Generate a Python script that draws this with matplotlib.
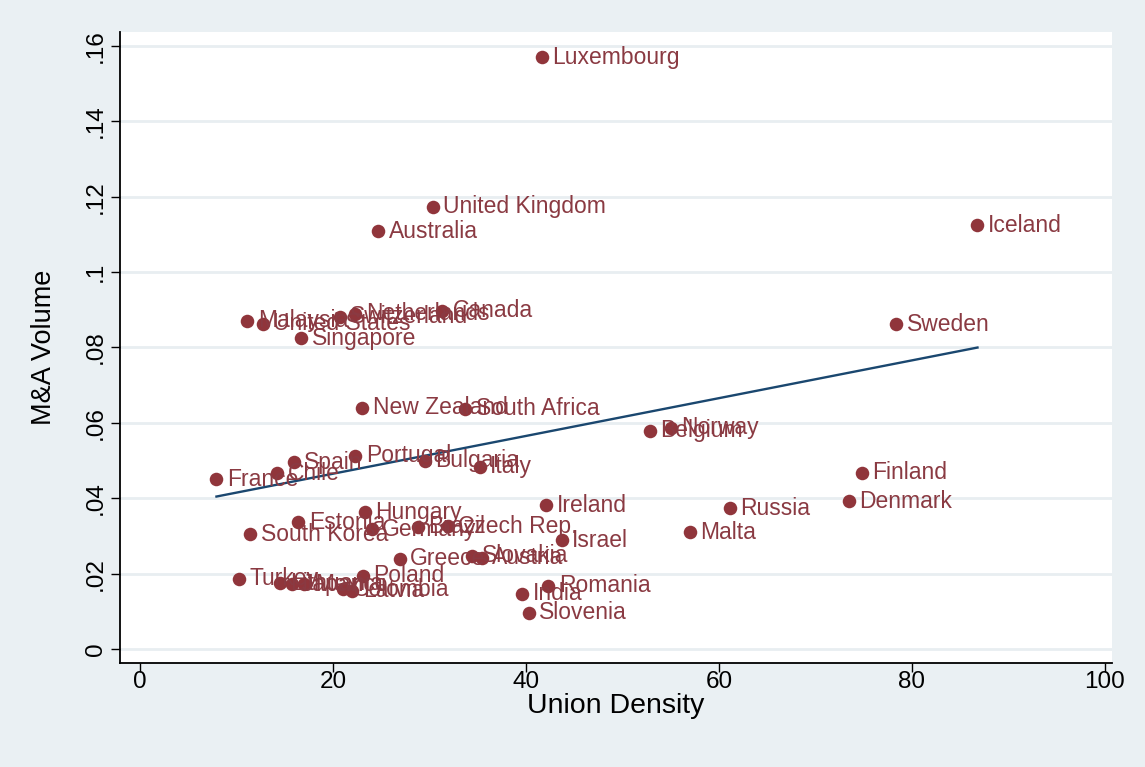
import matplotlib
matplotlib.use("Agg")
import matplotlib.pyplot as plt
import numpy as np
from matplotlib import font_manager

countries = ["Luxembourg", "United Kingdom", "Australia", "Iceland", "Canada",
             "Netherlands", "Switzerland", "Malaysia", "United States", "Singapore",
             "Sweden", "New Zealand", "South Africa", "Norway", "Belgium",
             "Portugal", "Bulgaria", "Italy", "Spain", "Chile", "France",
             "Finland", "Denmark", "Ireland", "Russia", "Hungary", "Estonia",
             "Germany", "Brazil", "Czech Rep.", "Malta", "South Korea", "Israel",
             "Greece", "Slovakia", "Austria", "Turkey", "Poland", "Lithuania",
             "Japan", "Mexico", "Colombia", "Latvia", "Romania", "India", "Slovenia"]
union_density = [41.6, 30.3, 24.7, 86.8, 31.3,
                 22.3, 20.7, 11.1, 12.7, 16.7,
                 78.4, 23.0, 33.7, 55.0, 52.8,
                 22.3, 29.5, 35.2, 15.9, 14.2, 7.9,
                 74.8, 73.5, 42.1, 61.1, 23.3, 16.4,
                 24.0, 28.8, 31.9, 57.0, 11.4, 43.7,
                 26.9, 34.4, 35.4, 10.2, 23.1, 14.5,
                 15.7, 17.0, 21.0, 22.0, 42.3, 39.6, 40.3]
ma_volume = [0.1570, 0.1174, 0.1108, 0.1124, 0.0897,
             0.0890, 0.0882, 0.0871, 0.0863, 0.0825,
             0.0861, 0.0640, 0.0637, 0.0587, 0.0579,
             0.0513, 0.0500, 0.0484, 0.0495, 0.0466, 0.0450,
             0.0468, 0.0392, 0.0382, 0.0374, 0.0363, 0.0337,
             0.0318, 0.0324, 0.0326, 0.0310, 0.0305, 0.0289,
             0.0239, 0.0247, 0.0242, 0.0187, 0.0195, 0.0174,
             0.0172, 0.0172, 0.0158, 0.0155, 0.0168, 0.0147, 0.0096]

# fitted line
fit_intercept = 0.0365
fit_slope = 0.000501

x_ticks = [0, 20, 40, 60, 80, 100]
y_ticks = [0, 0.02, 0.04, 0.06, 0.08, 0.10, 0.12, 0.14, 0.16]
y_tick_labels = ["0", ".02", ".04", ".06", ".08", ".1", ".12", ".14", ".16"]

avail = {f.name for f in font_manager.fontManager.ttflist}
fam = "Liberation Sans" if "Liberation Sans" in avail else "DejaVu Sans"
plt.rcParams["font.family"] = [fam, "DejaVu Sans"]

bg = "#eaf0f3"
maroon = "#90353b"
navy = "#1a476f"

fig = plt.figure(figsize=(11.45, 7.67), dpi=100, facecolor=bg)
ax = fig.add_axes([0.1048, 0.1356, 0.866, 0.8227])
ax.set_facecolor("white")

x = np.array(union_density)
y = np.array(ma_volume)

for yt in y_ticks:
    ax.axhline(yt, color="#e8eef1", lw=2.0, zorder=0)

ax.scatter(x, y, s=95, color=maroon, zorder=3, linewidths=0)
for name, xi, yi in zip(countries, x, y):
    ax.annotate(name, (xi, yi), xytext=(7.5, 0), textcoords="offset points",
                va="center", ha="left", fontsize=16.5, color="#8a3a42", zorder=4)

xf = np.array([x.min(), x.max()])
ax.plot(xf, fit_intercept + fit_slope * xf, color=navy, lw=1.7, zorder=2)

ax.set_xlim(-2.1, 100.7)
ax.set_ylim(-0.0037, 0.1637)
ax.set_xticks(x_ticks)
ax.set_xticklabels([str(t) for t in x_ticks])
ax.set_yticks(y_ticks)
ax.set_yticklabels(y_tick_labels, rotation=90, va="center")
ax.tick_params(axis="both", labelsize=17.5, length=6.5, width=1.0, color="black")
ax.tick_params(axis="x", pad=-1)
ax.tick_params(axis="y", pad=3)

for s in ["top", "right"]:
    ax.spines[s].set_visible(False)
for s in ["left", "bottom"]:
    ax.spines[s].set_linewidth(1.3)

ax.set_xlabel("Union Density", fontsize=20.5, labelpad=0)
ax.set_ylabel("M&A Volume", fontsize=19.5, labelpad=20)

fig.savefig("out.png", dpi=100, facecolor=bg)
